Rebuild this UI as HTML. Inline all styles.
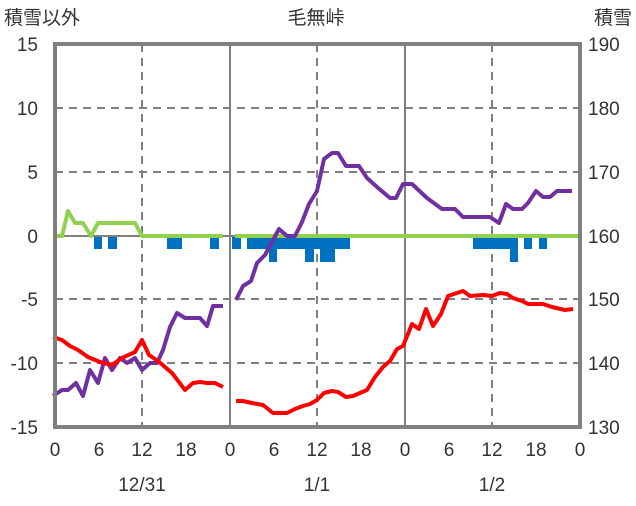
<!DOCTYPE html>
<html><head><meta charset="utf-8"><style>
body{margin:0;background:#fff}
svg text{font-family:"Liberation Sans","Noto Sans CJK JP",sans-serif;font-size:19px;fill:#333}
</style></head><body>
<svg width="636" height="501" viewBox="0 0 636 501">
<g stroke="#808080" stroke-width="2" stroke-dasharray="8,6" fill="none">
<line x1="55" y1="108" x2="580" y2="108"/><line x1="55" y1="172" x2="580" y2="172"/>
<line x1="55" y1="299" x2="580" y2="299"/><line x1="55" y1="363" x2="580" y2="363"/>
<line x1="142" y1="44" x2="142" y2="427"/><line x1="317" y1="44" x2="317" y2="427"/><line x1="492" y1="44" x2="492" y2="427"/>
</g>
<g stroke="#808080" stroke-width="2">
<line x1="230" y1="44" x2="230" y2="427"/><line x1="405" y1="44" x2="405" y2="427"/>
<line x1="55" y1="236" x2="580" y2="236"/>
</g>
<g fill="#0070c0">
<rect x="94" y="237" width="8" height="12"/><rect x="108" y="237" width="9" height="12"/>
<rect x="167" y="237" width="15" height="12"/><rect x="210" y="237" width="9" height="12"/>
<rect x="232" y="237" width="9" height="12"/><rect x="247" y="237" width="103" height="12"/>
<rect x="269" y="237" width="8" height="25"/><rect x="305" y="237" width="9" height="25"/><rect x="320" y="237" width="15" height="25"/>
<rect x="473" y="237" width="44" height="12"/><rect x="510" y="237" width="8" height="25"/>
<rect x="524" y="237" width="8" height="12"/><rect x="539" y="237" width="8" height="12"/>
</g>
<g fill="none" stroke-width="4" stroke-linejoin="round">
<polyline stroke="#92d050" points="53,236 62,236 68,211 75,223 83,223 91,236 98,223 135,223 142,236 223,236"/>
<polyline stroke="#92d050" points="235,236 580,236"/>
<polyline stroke="#7030a0" points="53,396 62,390 68,390 76,383 83,396 90,370 98,383 105,358 112,370 120,358 127,363 135,358 142,370 150,363 157,363 163,350 170,327 177,313 185,318 200,318 207,326 213,306 223,306"/>
<polyline stroke="#7030a0" points="236,300 243,286 251,281 257,263 265,255 279,229 287,236 295,236 302,222 309,204 317,191 324,159 332,153 338,153 346,166 359,166 367,178 377,187 390,198 396,198 403,184 412,184 427,198 442,209 455,209 463,217 490,217 499,223 506,204 513,209 522,209 528,203 536,191 543,197 550,197 557,191 572,191"/>
<polyline stroke="#ff0000" points="53,337 62,340 70,346 78,350 88,357 100,362 112,365 122,358 135,352 142,340 149,355 158,361 172,373 185,390 193,383 200,382 207,383 215,383 223,387"/>
<polyline stroke="#ff0000" points="236,401 243,401 252,403 263,405 273,413 287,413 295,409 303,406 310,404 317,400 324,393 332,391 338,392 346,397 353,396 367,390 375,377 383,367 390,361 397,349 403,346 412,324 419,329 426,309 433,326 441,314 448,296 463,291 470,296 483,295 492,296 500,293 507,294 513,298 522,301 528,304 543,304 552,307 565,310 573,309"/>
</g>
<rect x="55" y="44" width="525" height="383" fill="none" stroke="#808080" stroke-width="4"/>
<g text-anchor="end">
<text x="38" y="51">15</text><text x="38" y="115">10</text><text x="38" y="179">5</text><text x="38" y="243">0</text>
<text x="38" y="306">-5</text><text x="38" y="370">-10</text><text x="38" y="434">-15</text>
</g>
<g text-anchor="start">
<text x="588" y="51">190</text><text x="588" y="115">180</text><text x="588" y="179">170</text><text x="588" y="243">160</text>
<text x="588" y="306">150</text><text x="588" y="370">140</text><text x="588" y="434">130</text>
</g>
<g text-anchor="middle">
<text x="55" y="456">0</text><text x="99" y="456">6</text><text x="142" y="456">12</text><text x="186" y="456">18</text>
<text x="230" y="456">0</text><text x="274" y="456">6</text><text x="317" y="456">12</text><text x="361" y="456">18</text>
<text x="405" y="456">0</text><text x="449" y="456">6</text><text x="492" y="456">12</text><text x="536" y="456">18</text>
<text x="580" y="456">0</text>
<text x="142" y="491">12/31</text><text x="317" y="491">1/1</text><text x="492" y="491">1/2</text>
<text x="316" y="24">毛無峠</text>
</g>
<text x="4" y="24">積雪以外</text>
<text x="632" y="24" text-anchor="end">積雪</text>
</svg>
</body></html>
